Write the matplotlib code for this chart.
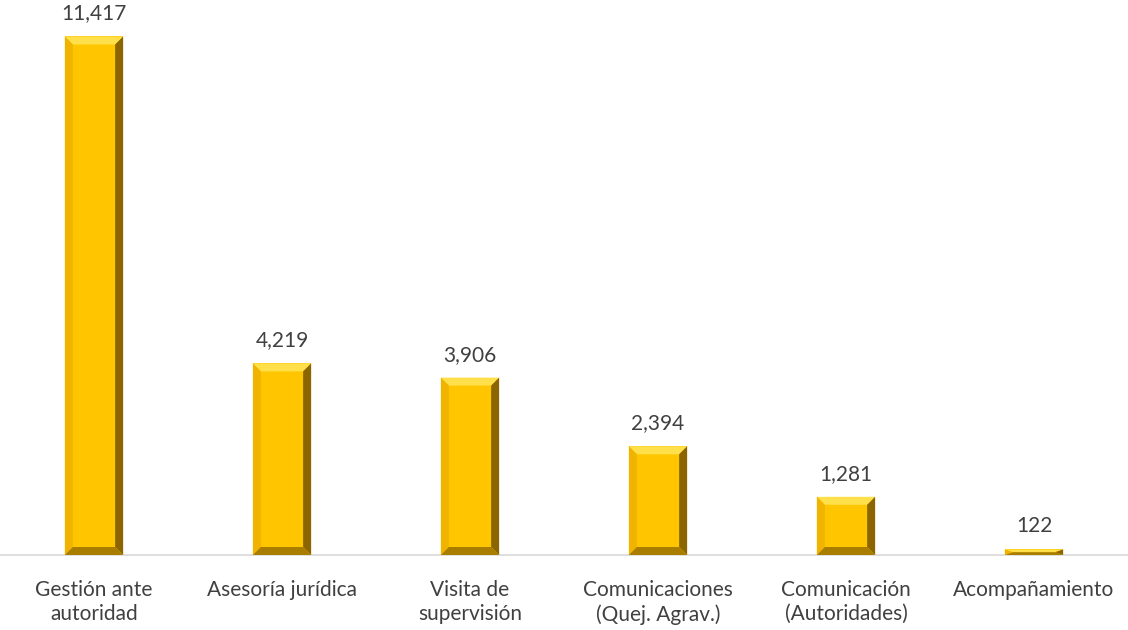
import matplotlib.pyplot as plt
from matplotlib.patches import Polygon

categorias = ["Gestión ante\nautoridad", "Asesoría jurídica", "Visita de\nsupervisión",
              "Comunicaciones\n(Quej. Agrav.)", "Comunicación\n(Autoridades)", "Acompañamiento"]
valores = [11417, 4219, 3906, 2394, 1281, 122]

plt.rcParams['font.family'] = ['Lato', 'DejaVu Sans']

fig = plt.figure(figsize=(11.28, 6.3), dpi=100)
ax = fig.add_axes([0, 75 / 630, 1, 545 / 630])

x = list(range(len(valores)))
ancho = 0.31
barras = ax.bar(x, valores, width=ancho, color="#FFC600", zorder=2)

ax.set_xlim(-0.5, len(valores) - 0.5)
ax.set_ylim(0, 12000)

# bevel effect, size in pixels converted to data units
bev_px = 8
dx = bev_px * 1.0 * len(valores) / 1128
dy = bev_px * 12000 / 545
for b in barras:
    x0, w, h = b.get_x(), b.get_width(), b.get_height()
    x1 = x0 + w
    by = min(dy, h / 2)
    bx = min(dx, w / 2)
    # top facet
    ax.add_patch(Polygon([(x0, h), (x1, h), (x1 - bx, h - by), (x0 + bx, h - by)],
                         closed=True, color="#FFE04A", lw=0, zorder=3))
    # left facet
    ax.add_patch(Polygon([(x0, 0), (x0, h), (x0 + bx, h - by), (x0 + bx, by)],
                         closed=True, color="#F0B400", lw=0, zorder=3))
    # right facet
    ax.add_patch(Polygon([(x1, 0), (x1, h), (x1 - bx, h - by), (x1 - bx, by)],
                         closed=True, color="#8A6500", lw=0, zorder=3))
    # bottom facet
    ax.add_patch(Polygon([(x0, 0), (x1, 0), (x1 - bx, by), (x0 + bx, by)],
                         closed=True, color="#A87D00", lw=0, zorder=3))
    ax.text(b.get_x() + w / 2, h + 12000 * 13 / 545, f"{h:,}", ha="center", va="bottom",
            fontsize=15, color="#404040")

for s in ["top", "right", "left"]:
    ax.spines[s].set_visible(False)
ax.spines["bottom"].set_color("#D9D9D9")
ax.spines["bottom"].set_linewidth(1.2)
ax.set_yticks([])
ax.set_xticks(x)
ax.set_xticklabels(categorias, fontsize=15, color="#404040", linespacing=1.25)
ax.tick_params(axis="x", length=0, pad=18)

fig.savefig("out.png", dpi=100)
